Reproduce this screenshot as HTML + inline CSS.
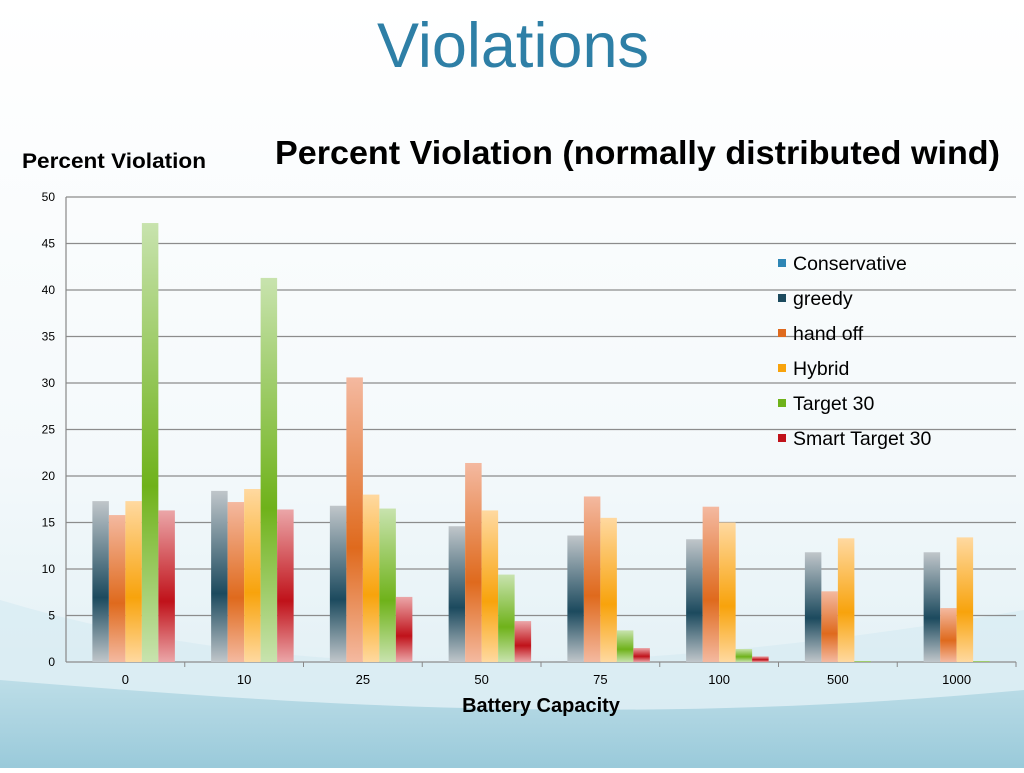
<!DOCTYPE html>
<html><head><meta charset="utf-8"><style>
body{margin:0;width:1024px;height:768px;overflow:hidden;font-family:"Liberation Sans",sans-serif;}
</style></head><body>
<svg width="1024" height="768">
<defs>
<linearGradient id="bg" x1="0" y1="0" x2="0" y2="1"><stop offset="0" stop-color="#ffffff"/><stop offset="0.6" stop-color="#f4f9fb"/><stop offset="1" stop-color="#dcedf3"/></linearGradient>
<linearGradient id="wave" x1="0" y1="0" x2="0" y2="1"><stop offset="0" stop-color="#a9d3e0"/><stop offset="1" stop-color="#6fb3c9"/></linearGradient>
</defs>
<rect width="1024" height="768" fill="url(#bg)"/>
<path d="M0,600 C200,660 500,700 1024,610 L1024,768 L0,768 Z" fill="#d7ebf2" opacity="0.7"/>
<path d="M0,680 C250,700 600,730 1024,690 L1024,768 L0,768 Z" fill="url(#wave)" opacity="0.6"/>
<text x="513" y="67" text-anchor="middle" font-size="63" fill="#2e7fa6">Violations</text>
<text x="275" y="164" font-size="33" font-weight="bold" fill="#000" textLength="725" lengthAdjust="spacingAndGlyphs">Percent Violation (normally distributed wind)</text>
<text x="22" y="168" font-size="21" font-weight="bold" fill="#000" textLength="184" lengthAdjust="spacingAndGlyphs">Percent Violation</text>
<text x="541" y="712" text-anchor="middle" font-size="20" font-weight="bold" fill="#000">Battery Capacity</text>
<g id="grid"></g><g id="bars"></g><g id="legend"></g>
</svg>
<script>
const categories=["0","10","25","50","75","100","500","1000"];
const seriesNames=["Conservative","greedy","hand off","Hybrid","Target 30","Smart Target 30"];
const conservative=[0,0,0,0,0,0,0,0];
const greedy=[17.3,18.4,16.8,14.6,13.6,13.2,11.8,11.8];
const handOff=[15.8,17.2,30.6,21.4,17.8,16.7,7.6,5.8];
const hybrid=[17.3,18.6,18.0,16.3,15.5,15.0,13.3,13.4];
const target30=[47.2,41.3,16.5,9.4,3.4,1.4,0.1,0.1];
const smartTarget30=[16.3,16.4,7.0,4.4,1.5,0.6,0,0];
const yTicks=[0,5,10,15,20,25,30,35,40,45,50];
const series=[conservative,greedy,handOff,hybrid,target30,smartTarget30];
const colors=[["#9cc7dc","#2e86b5"],["#c0c6ca","#1c4a5e"],["#f4b9a0","#df6a1d"],["#ffd9a0","#f8a30c"],["#c8e3ae","#6fb21a"],["#eba6a8","#c0121a"]];
const NS="http://www.w3.org/2000/svg";
const x0=66,x1=1016,yTop=197,yBot=662;
const y=v=>yBot-(v/50)*(yBot-yTop);
const bandW=(x1-x0)/categories.length;
const barW=16.5;
const defs=document.querySelector('defs');
colors.forEach((c,i)=>{const g=document.createElementNS(NS,'linearGradient');g.setAttribute('id','g'+i);g.setAttribute('x1',0);g.setAttribute('y1',0);g.setAttribute('x2',0);g.setAttribute('y2',1);
g.innerHTML=`<stop offset="0" stop-color="${c[0]}"/><stop offset="0.6" stop-color="${c[1]}"/><stop offset="1" stop-color="${c[0]}"/>`;defs.appendChild(g);});
const grid=document.getElementById('grid');
function mk(tag,attrs,parent){const e=document.createElementNS(NS,tag);for(const k in attrs)e.setAttribute(k,attrs[k]);parent.appendChild(e);return e;}
yTicks.forEach(t=>{
 const l=mk('line',{x1:x0,x2:x1,y1:y(t),y2:y(t),stroke:'#8c8c8c','stroke-width':1.2},grid);
 
 
 const tx=mk('text',{x:55,y:y(t)+4,'text-anchor':'end','font-size':12},grid);tx.textContent=t;
 
 
});
mk('line',{x1:x0,x2:x0,y1:yTop,y2:yBot,stroke:'#888','stroke-width':1.2},grid);
categories.forEach((c,i)=>{
 const cx=x0+bandW*(i+0.5);
 const tx=mk('text',{x:cx,y:684,'text-anchor':'middle','font-size':13},grid);tx.textContent=c;
 
 
 mk('line',{x1:x0+bandW*(i+1),x2:x0+bandW*(i+1),y1:yBot,y2:yBot+5,stroke:'#888'},grid);
});
const bars=document.getElementById('bars');
series.forEach((s,si)=>{s.forEach((v,i)=>{
 if(v<=0)return;
 const cx=x0+bandW*(i+0.5);
 const bx=cx-3*barW+si*barW;
 const r=mk('rect',{x:bx,y:y(v),width:barW,height:yBot-y(v),fill:'url(#g'+si+')'},bars);
 
 
});});
const lg=document.getElementById('legend');
seriesNames.forEach((n,i)=>{
 const yy=263+i*35;
 mk('rect',{x:778,y:yy-4,width:8,height:8,fill:colors[i][1]},lg);
 const t=mk('text',{x:793,y:yy+7,'font-size':19.5},lg);t.textContent=n;
 
 
});
</script>
</body></html>
